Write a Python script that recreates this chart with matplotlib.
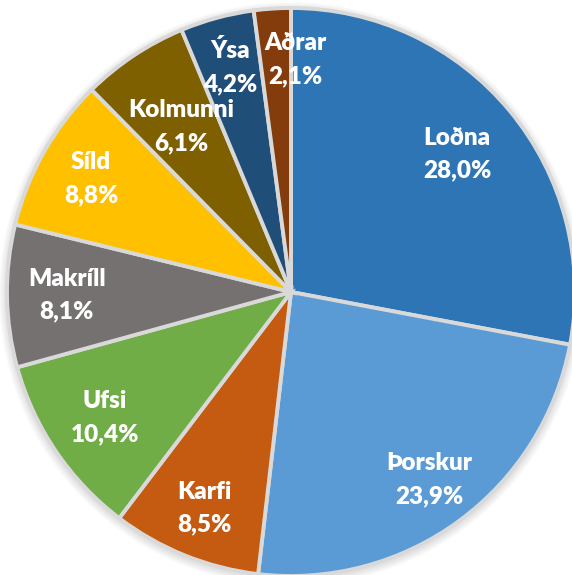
import matplotlib
matplotlib.use('Agg')
import matplotlib.pyplot as plt
import numpy as np
from matplotlib.patches import Circle

plt.rcParams['font.family'] = ['Lato', 'DejaVu Sans']

# data
labels = ['Loðna', 'Þorskur', 'Karfi', 'Ufsi', 'Makríll', 'Síld', 'Kolmunni', 'Ýsa', 'Aðrar']
shares = [28.0, 23.9, 8.5, 10.4, 8.1, 8.8, 6.1, 4.2, 2.1]
pct_text = ['28,0%', '23,9%', '8,5%', '10,4%', '8,1%', '8,8%', '6,1%', '4,2%', '2,1%']

colors = ['#2E75B6', '#5B9BD5', '#C55A11', '#70AD47', '#767171',
          '#FFC000', '#7F6000', '#1F4E79', '#843C0C']
explode = [0.03, 0, 0, 0, 0, 0, 0, 0, 0]
label_r = [0.76, 0.82, 0.82, 0.79, 0.79, 0.81, 0.70, 0.82, 0.82]
nudge_x = [0, 0, 0, 0, 0, 0, 0, 0, 20]   # px, label shifted to fit

W, H = 572, 575
CX, CY, R = 291, H - 292, 284

fig = plt.figure(figsize=(W / 100, H / 100), dpi=100)
ax = fig.add_axes([0, 0, 1, 1])

# soft shadow behind the pie
for i in range(8):
    ax.add_patch(Circle((CX, CY - 2), R + 8 - i, color='#888888', alpha=0.03, lw=0, zorder=0))

wedges, _ = ax.pie(shares, colors=colors, startangle=90, counterclock=False,
                   explode=explode, center=(CX, CY), radius=R, frame=True,
                   wedgeprops=dict(edgecolor='#D9D9D9', linewidth=2.8))
ax.set_xlim(0, W)
ax.set_ylim(0, H)
ax.axis('off')

for w, name, pct, lr, nx in zip(wedges, labels, pct_text, label_r, nudge_x):
    mid = np.deg2rad((w.theta1 + w.theta2) / 2)
    cx, cy = w.center
    x = cx + lr * R * np.cos(mid) + nx
    y = cy + lr * R * np.sin(mid)
    ax.text(x, y, f'{name}\n{pct}', ha='center', va='center', color='white',
            fontsize=17.5, fontweight='heavy', linespacing=1.6, zorder=5)

fig.savefig('out.png', dpi=100, facecolor='white')
